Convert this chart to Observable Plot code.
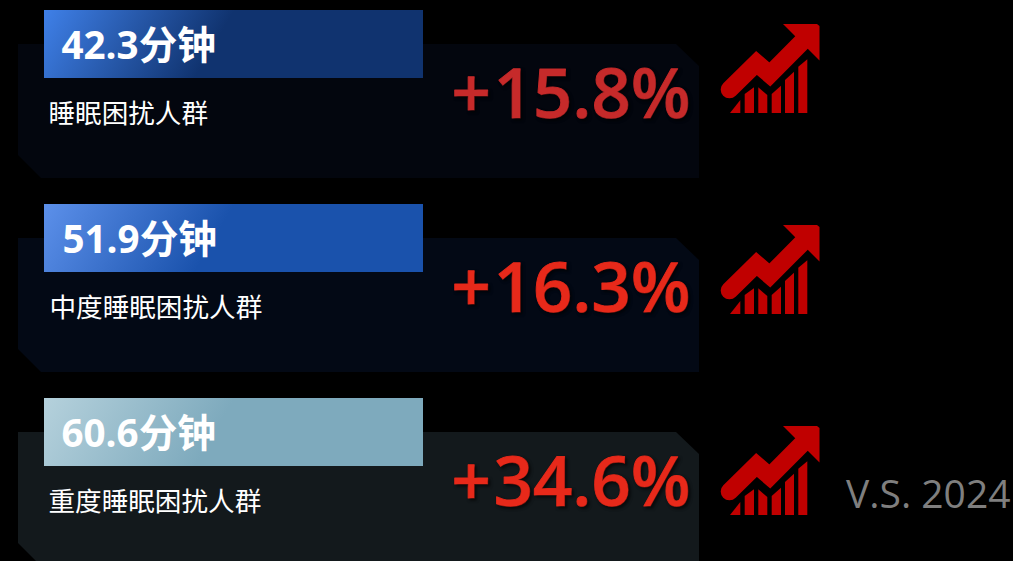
<!DOCTYPE html>
<html lang="zh">
<head>
<meta charset="utf-8">
<script src="https://cdn.jsdelivr.net/npm/d3@7"></script>
<script src="https://cdn.jsdelivr.net/npm/@observablehq/plot@0.6"></script>
<style>
html,body{margin:0;padding:0;background:#000;overflow:hidden}
.pct text{text-shadow:2px 2px 3px rgba(0,0,0,.55)}
</style>
</head>
<body>
<div id="chart"></div>
<script>
const minutes = ["42.3分钟", "51.9分钟", "60.6分钟"];
const groups = ["睡眠困扰人群", "中度睡眠困扰人群", "重度睡眠困扰人群"];
const signs = ["+", "+", "+"];
const changes = ["15.8%", "16.3%", "34.6%"];
const compareLabel = "V.S. 2024";

const panelColors = ["#03060e", "#030915", "#13191c"];
const changeColors = ["#c62a2a", "#e7291a", "#e7291a"];
const gradFrom = ["#3f80e8", "#5c90ea", "#b5d1dc"];
const gradTo = ["#10336f", "#1a52ac", "#7eaabd"];
const rowOffsets = [0, 194, 388];
const iconOffsets = [0, 201, 402];
const titleX = [61, 62, 61];
const labelX = [48, 49, 48];

const W = 1013, H = 561;

const rows = minutes.map((m, i) => ({
  i, minutes: m, group: groups[i], sign: signs[i], change: changes[i], dy: rowOffsets[i], iy: iconOffsets[i]
}));

const panelShape = [[18, 44, 155], [41, 44, 178], [676, 44, 178], [699, 66, 178]];
const arrowBody = [[729, 89], [756, 62.5], [769.3, 74], [801, 42]];
const arrowHead = [[783, 24, 24], [817, 24, 58], [819.5, 26, 60.5]];
const iconBars = [
  [730, 113, 113], [740.3, 100, 113],
  [744.7, 94, 113], [754, 87.3, 113],
  [758.3, 87.3, 113], [767.3, 95, 113],
  [771.7, 94, 113], [781, 85.7, 113],
  [785, 80, 113], [794, 71.7, 113],
  [798.3, 66.7, 113], [807.3, 59.3, 113]
];

const defs = () => {
  const d = d3.create("svg:defs");
  rows.forEach(r => {
    const g = d.append("linearGradient")
      .attr("id", "hdr" + r.i)
      .attr("gradientUnits", "userSpaceOnUse")
      .attr("x1", 44).attr("y1", 10 + r.dy)
      .attr("x2", 186).attr("y2", 93 + r.dy);
    g.append("stop").attr("offset", 0).attr("stop-color", gradFrom[r.i]);
    g.append("stop").attr("offset", 1).attr("stop-color", gradTo[r.i]);
  });
  return d.node();
};

const iconMarks = rows.flatMap(r => {
  const barSets = d3.range(6).map(b => iconBars.slice(b * 2, b * 2 + 2));
  return [
    ...barSets.map(s => Plot.area(s, {
      x1: d => d[0], y1: d => d[1] + r.iy, y2: d => d[2] + r.iy, fill: "#c00000", curve: "linear"
    })),
    Plot.line(arrowBody, {
      x: d => d[0], y: d => d[1] + r.iy, stroke: "#c00000", strokeWidth: 17.6,
      strokeLinecap: "round", strokeLinejoin: "miter", strokeMiterlimit: 10, curve: "linear"
    }),
    Plot.area(arrowHead, {
      x1: d => d[0], y1: d => d[1] + r.iy, y2: d => d[2] + r.iy, fill: "#c00000", curve: "linear"
    })
  ];
});

const latin = "'Open Sans','Noto Sans CJK SC',sans-serif";
const cjk = "'Noto Sans CJK SC','Open Sans',sans-serif";

const chart = Plot.plot({
  width: W, height: H,
  marginTop: 0, marginRight: 0, marginBottom: 0, marginLeft: 0,
  style: {background: "#000", overflow: "hidden"},
  x: {domain: [0, W], range: [0, W], axis: null},
  y: {domain: [0, H], range: [0, H], axis: null},
  marks: [
    defs,
    ...rows.map(r => Plot.area(panelShape, {
      x1: d => d[0], y1: d => d[1] + r.dy, y2: d => d[2] + r.dy, fill: panelColors[r.i], curve: "linear"
    })),
    ...rows.map(r => Plot.rect([r], {
      x1: 44, x2: 423, y1: d => 10 + d.dy, y2: d => 78 + d.dy, fill: `url(#hdr${r.i})`
    })),
    Plot.text(rows, {
      x: d => titleX[d.i], y: d => 46 + d.dy, text: "minutes", textAnchor: "start",
      fill: "#fff", fontSize: 38.6, fontWeight: 700, fontFamily: latin
    }),
    Plot.text(rows, {
      x: d => labelX[d.i], y: d => 114 + d.dy, text: "group", textAnchor: "start",
      fill: "#fff", fontSize: 26.6, fontWeight: 400, fontFamily: cjk
    }),
    Plot.text(rows, {
      x: 690, y: d => 95 + d.dy, text: "change", textAnchor: "end",
      fill: d => changeColors[d.i], stroke: d => changeColors[d.i], strokeWidth: 1,
      fontSize: 69, fontWeight: 600, fontFamily: latin, className: "pct"
    }),
    Plot.text(rows, {
      x: 451, y: d => 95 + d.dy, text: "sign", textAnchor: "start",
      fill: d => changeColors[d.i], stroke: d => changeColors[d.i], strokeWidth: 1,
      fontSize: 69, fontWeight: 600, fontFamily: latin, className: "pct"
    }),
    ...iconMarks,
    Plot.text([compareLabel], {
      x: 1010, y: 495, text: d => d, textAnchor: "end",
      fill: "#7f7f7f", fontSize: 39, fontWeight: 400, fontFamily: latin
    })
  ],
  color: {type: "identity"}
});
document.getElementById("chart").append(chart);
</script>
</body>
</html>
